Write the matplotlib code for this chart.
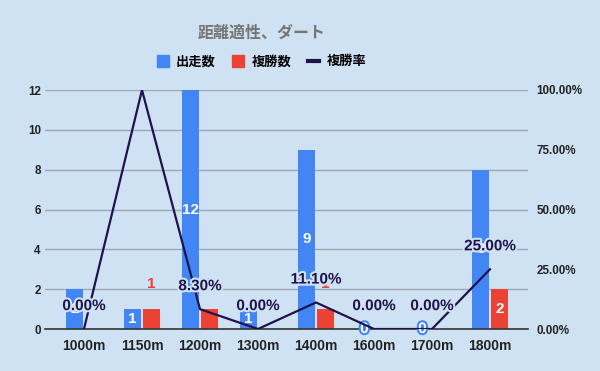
import matplotlib.pyplot as plt
import matplotlib.patheffects as pe
from matplotlib.lines import Line2D
import numpy as np

categories = ['1000m', '1150m', '1200m', '1300m', '1400m', '1600m', '1700m', '1800m']
starts = [2, 1, 12, 1, 9, 0, 0, 8]        # 出走数
places = [0, 1, 1, 0, 1, 0, 0, 2]         # 複勝数
place_rate = [0.0, 1.0, 0.083, 0.0, 0.111, 0.0, 0.0, 0.25]  # 複勝率

bg = '#cfe2f3'
blue = '#4285f4'
red = '#ea4335'
navy = '#20124d'

plt.rcParams['font.family'] = ['Liberation Sans', 'Noto Sans CJK JP']

fig = plt.figure(figsize=(6, 3.71), dpi=100, facecolor=bg)
ax = fig.add_axes([45/600, 1-329/371, 483/600, 239/371])
ax.set_facecolor(bg)

x = np.arange(len(categories))
w = 0.29
off = 0.165
ax.bar(x - off, starts, w, color=blue, zorder=2)
ax.bar(x + off, places, w, color=red, zorder=2)

ax.set_xlim(-0.672, 7.655)
ax.set_ylim(0, 12)
ax.set_yticks(range(0, 13, 2))
ax.grid(axis='y', color='#9aa8b6', linewidth=1)
ax.set_axisbelow(True)
for s in ['top', 'left', 'right']:
    ax.spines[s].set_visible(False)
ax.spines['bottom'].set_color('#333333')
ax.spines['bottom'].set_linewidth(1.2)
ax.set_xticks(x)
ax.set_xticklabels(categories, fontsize=10, fontweight='bold', color='#222222')
ax.tick_params(axis='x', length=0, pad=7)
ax.tick_params(axis='y', length=0, pad=3, labelsize=8.4, labelcolor='#222222')
for t in ax.get_yticklabels():
    t.set_fontweight('bold')

ax2 = ax.twinx()
ax2.set_ylim(0, 1)
ax2.set_yticks([0, 0.25, 0.5, 0.75, 1.0])
ax2.set_yticklabels(['%.2f%%' % (v * 100) for v in [0, 0.25, 0.5, 0.75, 1.0]],
                    fontsize=8.4, fontweight='bold', color='#222222')
ax2.tick_params(axis='y', length=0, pad=6)
for s in ax2.spines.values():
    s.set_visible(False)
ax2.plot(x, place_rate, color=navy, linewidth=1.6, zorder=3)

# bar labels
for i, v in enumerate(starts):
    if v > 0:
        ax.text(i - off, v / 2, str(v), ha='center', va='center', color='white',
                fontsize=11, fontweight='bold', zorder=4)
    else:
        ax.text(i - off, 0, str(v), ha='center', va='center', color='white',
                fontsize=11, fontweight='bold', zorder=4,
                path_effects=[pe.withStroke(linewidth=3, foreground=blue)])
for i, v in enumerate(places):
    if v >= 2:
        ax.text(i + off, v / 2, str(v), ha='center', va='center', color='white',
                fontsize=11, fontweight='bold', zorder=4)
    else:
        ax.annotate(str(v), (i + off, v), xytext=(0, 18), textcoords='offset points',
                    ha='center', va='center', color=red, fontsize=11,
                    fontweight='bold', zorder=4)

# rate labels
for i, r in enumerate(place_rate):
    if r < 0.9:
        ax2.annotate('%.2f%%' % (r * 100), (i, r), xytext=(0, 16.5),
                     textcoords='offset points', ha='center', va='center',
                     color=navy, fontsize=11, fontweight='bold', zorder=6,
                     path_effects=[pe.withStroke(linewidth=3, foreground=bg)])

fig.text(262/600, 1-33/371, '距離適性、ダート', ha='center', va='center',
         fontsize=11.5, fontweight='bold', color='#757575')

handles = [Line2D([], [], marker='s', markersize=8, linestyle='none', color=blue),
           Line2D([], [], marker='s', markersize=8, linestyle='none', color=red),
           Line2D([], [], color=navy, linewidth=3)]
fig.legend(handles, ['出走数', '複勝数', '複勝率'], loc='center',
           bbox_to_anchor=(262/600, 1-62/371), ncol=3, frameon=False,
           handlelength=0.8, handletextpad=0.6, columnspacing=1.3,
           prop={'size': 9.5, 'weight': 'bold'})

fig.savefig('out.png', dpi=100, facecolor=bg)
